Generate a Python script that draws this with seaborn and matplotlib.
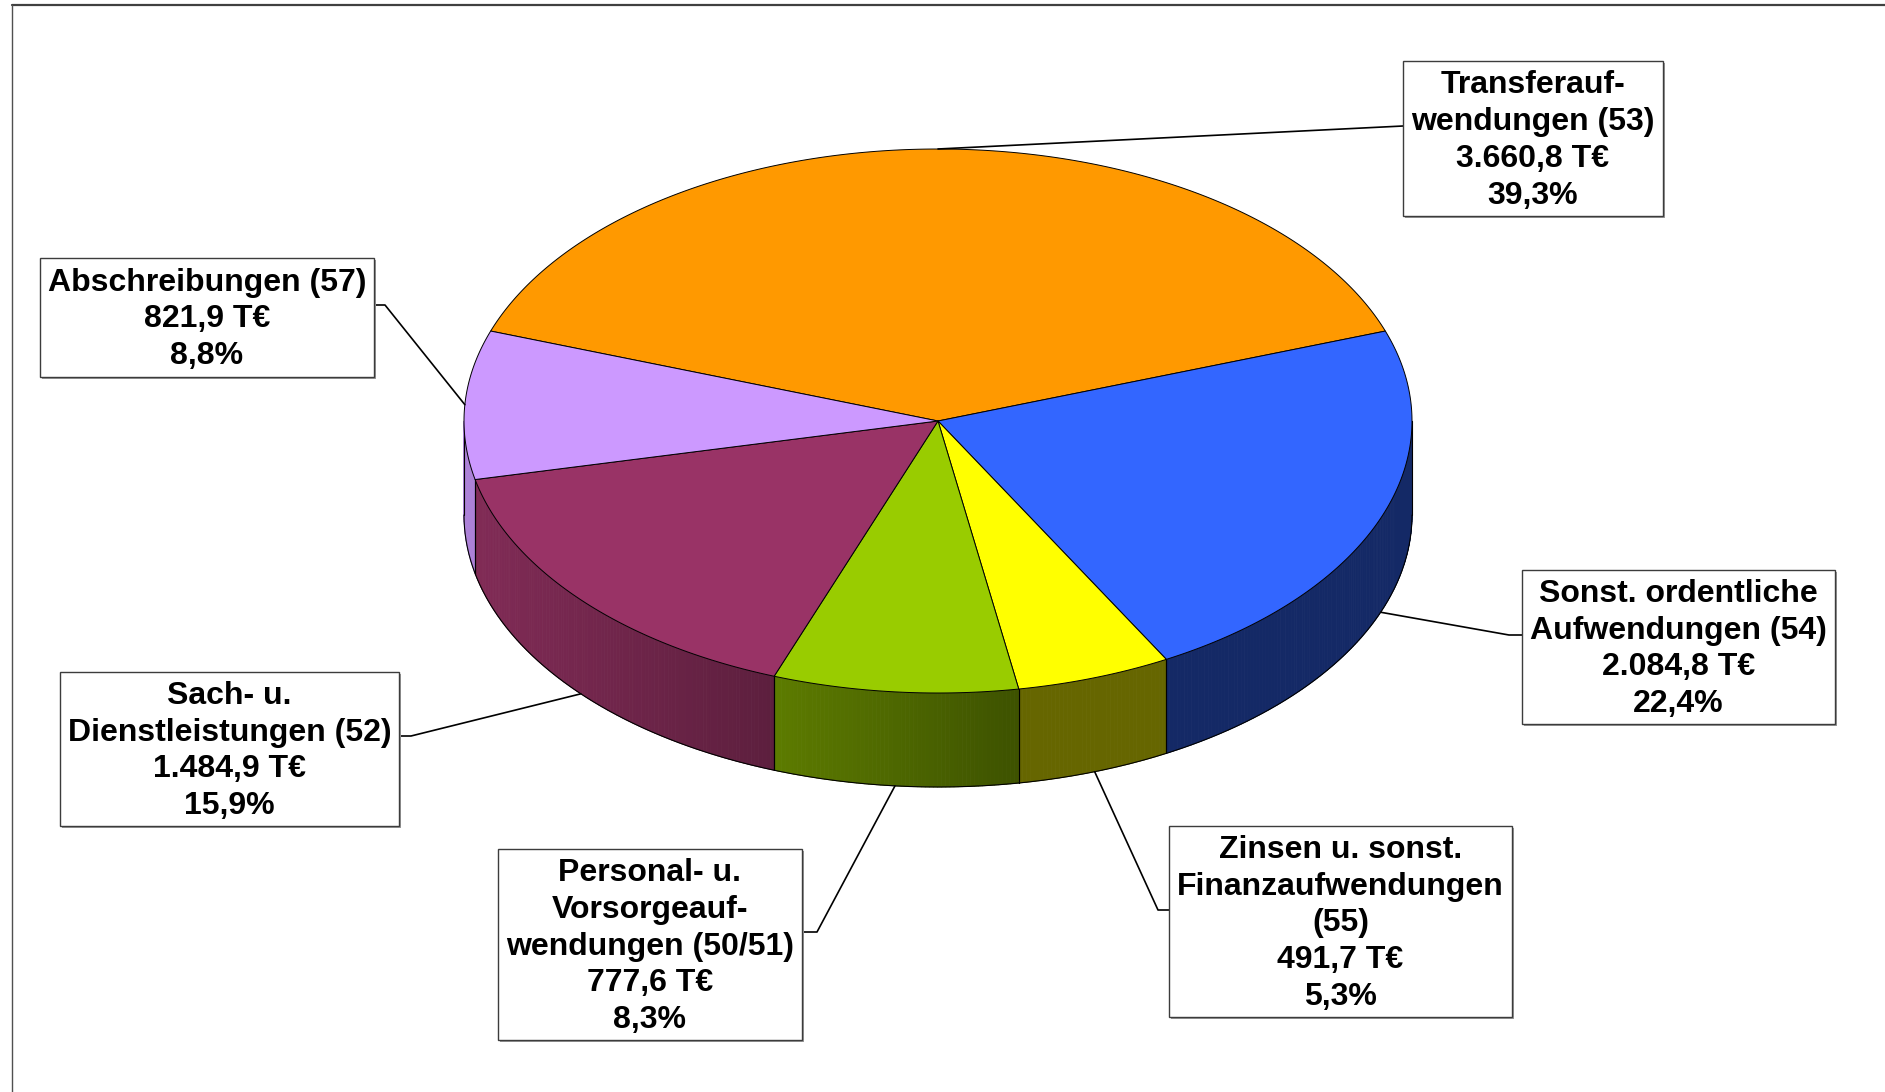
import numpy as np
import matplotlib
matplotlib.use("Agg")
import matplotlib.pyplot as plt
from matplotlib.collections import PolyCollection
from matplotlib.patches import Polygon, Rectangle
import seaborn as sns

# data
categories = [
    "Transferauf-\nwendungen (53)",
    "Sonst. ordentliche\nAufwendungen (54)",
    "Zinsen u. sonst.\nFinanzaufwendungen\n(55)",
    "Personal- u.\nVorsorgeauf-\nwendungen (50/51)",
    "Sach- u.\nDienstleistungen (52)",
    "Abschreibungen (57)",
]
values_teur = [3660.8, 2084.8, 491.7, 777.6, 1484.9, 821.9]
slice_colors = ["#FF9900", "#3366FF", "#FFFF00", "#99CC00", "#993366", "#CC99FF"]

# layout (pixel coordinates, y downwards)
W, H = 1885, 1092
CX, CY, RX, RY, DEPTH = 938, 421, 474, 272, 94
# box (x0, y0, x1, y1), attach point on box, elbow point (None = straight)
label_boxes = [
    ((1403, 61, 1663, 216), (1403, 126), None),
    ((1522, 570, 1835, 724), (1522, 635), (1509, 635)),
    ((1169, 826, 1512, 1017), (1169, 910), (1158, 910)),
    ((498, 849, 802, 1040), (802, 932), (817, 932)),
    ((60, 672, 399, 826), (399, 736), (411, 736)),
    ((40, 258, 374, 377), (374, 305), (385, 305)),
]


def de_num(v, fmt="{:,.1f}"):
    return fmt.format(v).replace(",", "X").replace(".", ",").replace("X", ".")


def ell(t, dz=0.0):
    t = np.radians(t)
    return CX + RX * np.cos(t), CY - RY * np.sin(t) + dz


def side_shade(a):
    u = np.clip((-80 - a) / 100, 0, 1)
    return 0.4 + 0.45 * np.sin(np.pi / 2 * u)


sns.set_theme(style="white")
plt.rcParams["font.family"] = ["Liberation Sans", "DejaVu Sans"]
plt.rcParams["text.color"] = "black"

fig = plt.figure(figsize=(W / 100, H / 100), dpi=100)
ax = fig.add_axes([0, 0, 1, 1])
ax.set_xlim(0, W)
ax.set_ylim(H, 0)
ax.axis("off")

vals = np.array(values_teur)
fracs = vals / vals.sum()
start = 90 + fracs[0] * 180
a0s = start - 360 * np.concatenate([[0], np.cumsum(fracs)[:-1]])
a1s = a0s - 360 * fracs

# side walls (front half only)
for a0, a1, col in zip(a0s, a1s, slice_colors):
    lo, hi = max(a1, -180), min(a0, 0)
    if hi <= lo:
        continue
    base = np.array(matplotlib.colors.to_rgb(col))
    ts = np.linspace(lo, hi, int((hi - lo) * 2) + 2)
    polys, cols = [], []
    for ta, tb in zip(ts[:-1], ts[1:]):
        xa, ya = ell(ta)
        xb, yb = ell(tb)
        polys.append([(xa, ya), (xb, yb), (xb, yb + DEPTH), (xa, ya + DEPTH)])
        cols.append(base * side_shade((ta + tb) / 2))
    ax.add_collection(PolyCollection(polys, facecolors=cols, edgecolors=cols,
                                     linewidths=0.6, zorder=2))
    for t in (lo, hi):
        x, y = ell(t)
        ax.plot([x, x], [y, y + DEPTH], color="black", lw=0.8, zorder=3)

tb = np.linspace(-180, 0, 400)
bx, by = ell(tb, DEPTH)
ax.plot(bx, by, color="black", lw=0.8, zorder=3)

# top faces
for a0, a1, col in zip(a0s, a1s, slice_colors):
    ts = np.linspace(a0, a1, 200)
    xs, ys = ell(ts)
    pts = [(CX, CY)] + list(zip(xs, ys))
    ax.add_patch(Polygon(pts, closed=True, facecolor=col, edgecolor="black",
                         lw=0.7, joinstyle="round", zorder=4))

# labels with leader lines
for cat, v, f, a0, a1, (box, attach, elbow) in zip(
        categories, vals, fracs, a0s, a1s, label_boxes):
    mid = (a0 + a1) / 2
    ax_, ay_ = ell(mid, DEPTH if np.sin(np.radians(mid)) < 0 else 0)
    path = [(ax_, ay_)] + ([elbow] if elbow else []) + [attach]
    px, py = zip(*path)
    ax.plot(px, py, color="black", lw=1.2, zorder=5)

    x0, y0, x1, y1 = box
    ax.add_patch(Rectangle((x0 + 2, y0 + 2), x1 - x0, y1 - y0,
                           facecolor="#9a9a9a", edgecolor="none", zorder=5))
    ax.add_patch(Rectangle((x0, y0), x1 - x0, y1 - y0, facecolor="white",
                           edgecolor="#3c3c3c", lw=1.0, zorder=6))
    txt = f"{cat}\n{de_num(v)} T€\n{de_num(f * 100)}%"
    ax.text((x0 + x1) / 2, (y0 + y1) / 2 + 2, txt, ha="center", va="center",
            fontsize=23, fontweight="bold", linespacing=1.29, color="black",
            zorder=7)

# chart frame
ax.plot([12, W], [5, 5], color="#404040", lw=1.6, zorder=1)
ax.plot([12, 12], [5, H], color="#505050", lw=1.0, zorder=1)

fig.savefig("out.png", dpi=100)
